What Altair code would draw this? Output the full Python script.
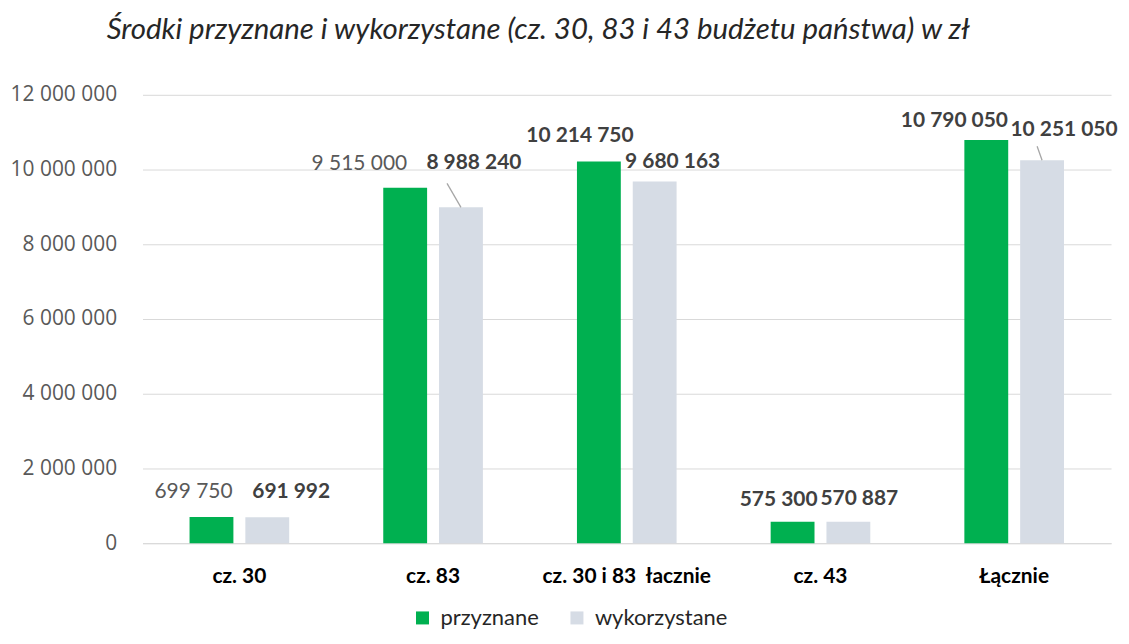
import altair as alt
import pandas as pd

categories = ["cz. 30", "cz. 83", "cz. 30 i 83 \u00a0łacznie", "cz. 43", "Łącznie"]
series = ["przyznane", "wykorzystane"]
przyznane = [699750, 9515000, 10214750, 575300, 10790050]
wykorzystane = [691992, 8988240, 9680163, 570887, 10251050]
y_ticks = [0, 2000000, 4000000, 6000000, 8000000, 10000000, 12000000]

rows = []
for i, c in enumerate(categories):
    rows.append({"cat": c, "series": series[0], "value": przyznane[i]})
    rows.append({"cat": c, "series": series[1], "value": wykorzystane[i]})
df = pd.DataFrame(rows)

# label styling: (category index, series index) -> (dx, dy, weight, color)
label_style = {
    (0, 0): (-18, -25, "normal", "#595959"),
    (0, 1): (24, -25, "bold", "#404040"),
    (1, 0): (-46, -24, "normal", "#595959"),
    (1, 1): (13, -44, "bold", "#404040"),
    (2, 0): (-19, -26, "bold", "#404040"),
    (2, 1): (18, -20, "bold", "#404040"),
    (3, 0): (-14, -22, "bold", "#404040"),
    (3, 1): (11, -23, "bold", "#404040"),
    (4, 0): (-32, -19, "bold", "#404040"),
    (4, 1): (22, -30, "bold", "#404040"),
}
leaders = {(1, 1): (14, -24), (4, 1): (23, -14)}

x_enc = alt.X("cat:N", sort=categories,
              scale=alt.Scale(paddingInner=0, paddingOuter=0),
              axis=alt.Axis(title=None, labelAngle=0, domainColor="#D9D9D9",
                            ticks=False, labelPadding=22, labelFont="Lato",
                            labelFontWeight="bold", labelFontSize=21,
                            labelColor="#000000"))
xo_enc = alt.XOffset("series:N", sort=series,
                     scale=alt.Scale(paddingInner=0.214, paddingOuter=0.843))
y_enc = alt.Y("value:Q", scale=alt.Scale(domain=[0, 12000000], nice=False),
              axis=alt.Axis(title=None, values=y_ticks, format=",d",
                            domain=False, ticks=False, gridColor="#D9D9D9",
                            labelPadding=26, labelFont="Open Sans",
                            labelFontSize=21, labelColor="#595959"))

base = alt.Chart(df)

bars = base.mark_bar().encode(
    x=x_enc, xOffset=xo_enc, y=y_enc,
    color=alt.Color("series:N", sort=series,
                    scale=alt.Scale(domain=series, range=["#00B050", "#D6DCE5"]),
                    legend=alt.Legend(title=None, orient="none", direction="horizontal",
                                      legendX=270, legendY=514, symbolType="square",
                                      symbolSize=170, symbolStrokeWidth=0,
                                      labelFont="Lato", labelFontSize=22,
                                      labelColor="#262626", labelOffset=7,
                                      columnPadding=27)),
)

layers = [bars]
for (ci, si), (dx, dy, wt, col) in label_style.items():
    t = base.transform_filter(
        (alt.datum.cat == categories[ci]) & (alt.datum.series == series[si])
    ).mark_text(dx=dx, dy=dy, fontWeight=wt, color=col, font="Lato",
                fontSize=21, baseline="middle", align="center").encode(
        x=alt.X("cat:N", sort=categories), xOffset=alt.XOffset("series:N", sort=series),
        y="value:Q", text=alt.Text("value:Q", format=",d"))
    layers.append(t)

for (ci, si), (lx, ly) in leaders.items():
    r = base.transform_filter(
        (alt.datum.cat == categories[ci]) & (alt.datum.series == series[si])
    ).mark_rule(color="#A6A6A6", strokeWidth=1.3, x2Offset=lx, y2Offset=ly).encode(
        x=alt.X("cat:N", sort=categories), xOffset=alt.XOffset("series:N", sort=series),
        y="value:Q", x2=alt.X2("cat"), y2=alt.Y2("value"))
    layers.append(r)

chart = alt.layer(*layers).properties(
    width=972, height=450,
    autosize=alt.AutoSizeParams(type="none"),
    padding={"left": 135, "top": 86, "right": 10, "bottom": 90},
    title=alt.TitleParams(
        "Środki przyznane i wykorzystane (cz. 30, 83 i 43 budżetu państwa) w zł",
        anchor="start", frame="group", dx=-36, offset=39, font="Lato",
        fontStyle="italic", fontWeight="normal", fontSize=29.5, color="#262626"),
).configure(
    locale={"number": {"decimal": ",", "thousands": " ", "grouping": [3],
                       "currency": ["", " zł"]}},
    view=alt.ViewConfig(stroke=None),
)

chart.save("out.html", embed_options={"renderer": "svg", "actions": False})
